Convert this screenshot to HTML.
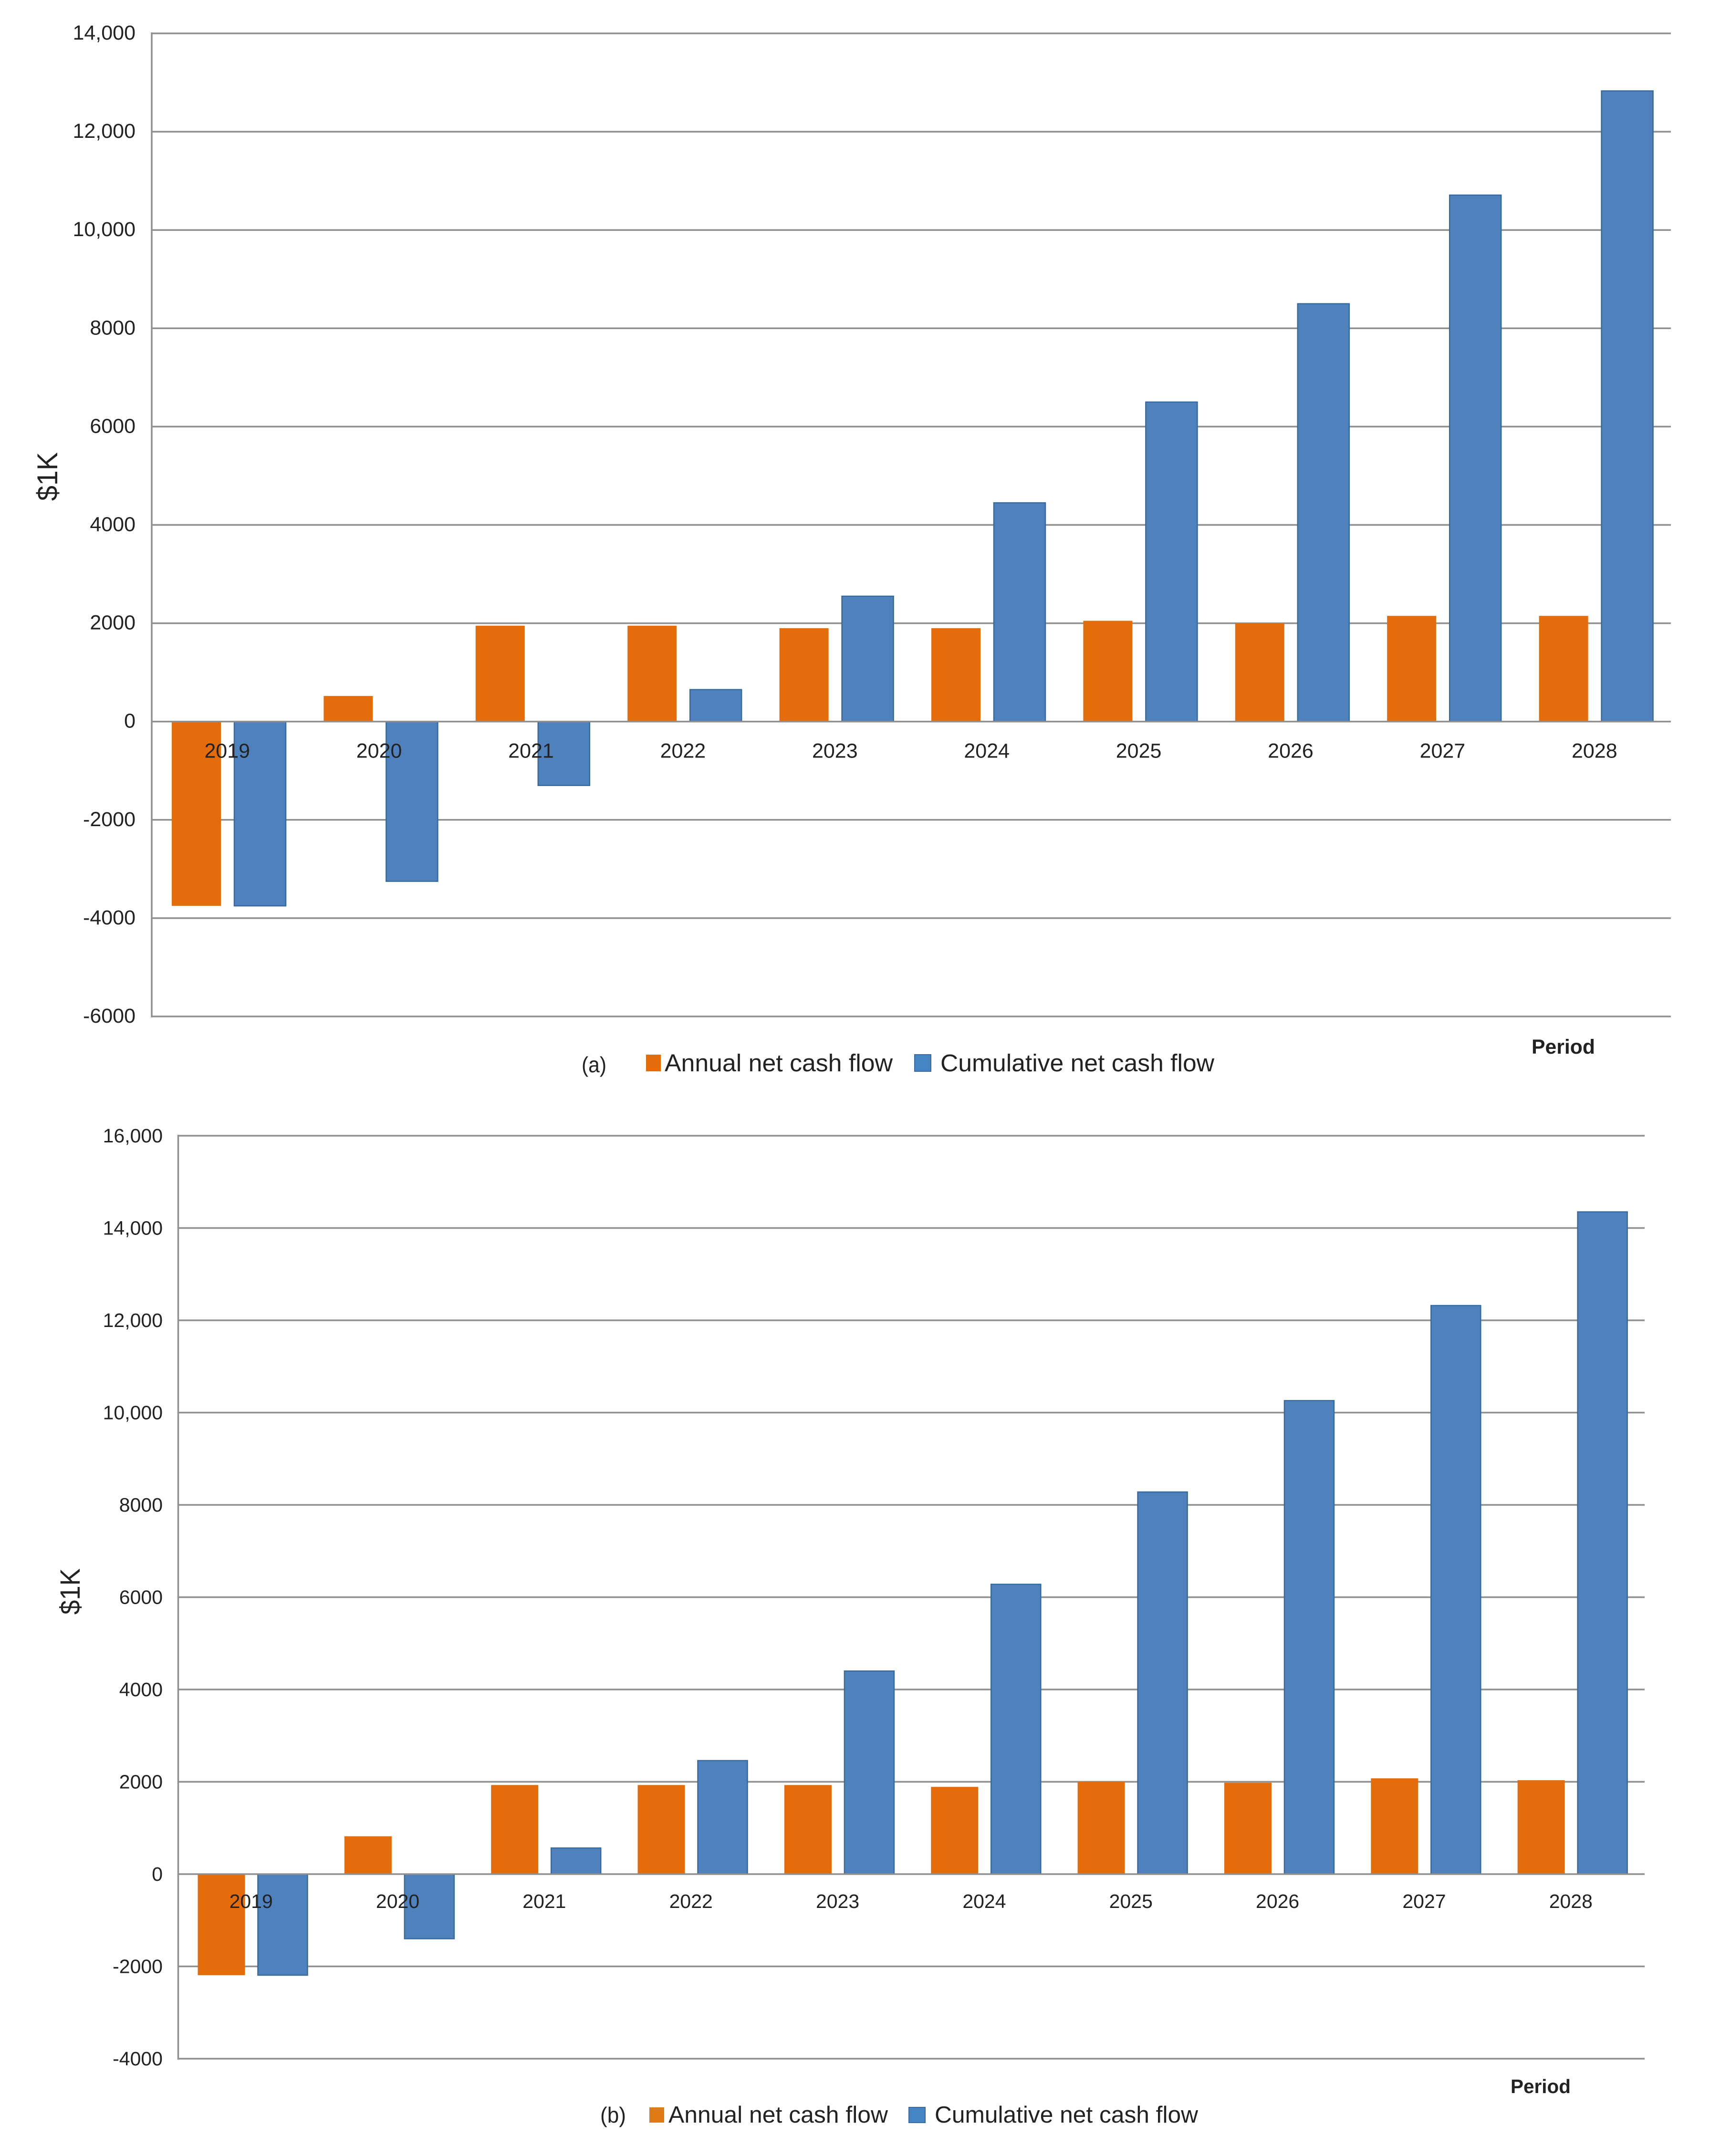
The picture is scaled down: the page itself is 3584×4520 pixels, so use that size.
<!DOCTYPE html>
<html lang="en">
<head>
<meta charset="utf-8">
<title>Annual and cumulative net cash flow</title>
<style>
html,body{margin:0;padding:0;background:#fff;width:3584px;height:4520px;overflow:hidden}
svg{display:block}
text{font-family:"Liberation Sans",sans-serif;fill:#222}
</style>
</head>
<body>
<svg id="figure" xmlns="http://www.w3.org/2000/svg" width="3584" height="4520" viewBox="0 0 3584 4520">
<rect x="0" y="0" width="3584" height="4520" fill="#ffffff"/>
<g id="chart-a"></g>
<g id="chart-b"></g>

<g>
<text x="1219" y="2248" font-size="46" textLength="52" lengthAdjust="spacingAndGlyphs">(a)</text>
<rect x="1354" y="2211" width="31" height="35" fill="#e46c0a"/>
<text x="1393" y="2246" font-size="51" textLength="478" lengthAdjust="spacingAndGlyphs">Annual net cash flow</text>
<rect x="1917" y="2211" width="34" height="35" fill="#4585c4" stroke="#3a6a9e" stroke-width="2"/>
<text x="1971" y="2246" font-size="51" textLength="574" lengthAdjust="spacingAndGlyphs">Cumulative net cash flow</text>
<text x="3210" y="2209" font-size="43" font-weight="bold" textLength="133" lengthAdjust="spacingAndGlyphs">Period</text>
</g>

<g>
<text x="1258" y="4450" font-size="46" textLength="54" lengthAdjust="spacingAndGlyphs">(b)</text>
<rect x="1361" y="4418" width="31" height="32" fill="#e07b14"/>
<text x="1401" y="4450" font-size="49" textLength="460" lengthAdjust="spacingAndGlyphs">Annual net cash flow</text>
<rect x="1905" y="4418" width="34" height="32" fill="#4585c4" stroke="#3a6a9e" stroke-width="2"/>
<text x="1959" y="4450" font-size="49" textLength="552" lengthAdjust="spacingAndGlyphs">Cumulative net cash flow</text>
<text x="3166" y="4388" font-size="41" font-weight="bold" textLength="126" lengthAdjust="spacingAndGlyphs">Period</text>
</g>

<text transform="translate(120 1050) rotate(-90)" font-size="60" textLength="102" lengthAdjust="spacingAndGlyphs">$1K</text>
<text transform="translate(167 3385) rotate(-90)" font-size="58" textLength="97" lengthAdjust="spacingAndGlyphs">$1K</text>
</svg>

<script>
var categories = ['2019','2020','2021','2022','2023','2024','2025','2026','2027','2028'];

var annualA = [-3750, 520, 1950, 1950, 1900, 1900, 2050, 2000, 2150, 2150];
var cumulativeA = [-3750, -3250, -1300, 650, 2550, 4450, 6500, 8500, 10710, 12830];
var tickValuesA = [14000, 12000, 10000, 8000, 6000, 4000, 2000, 0, -2000, -4000, -6000];
var tickLabelsA = ['14,000', '12,000', '10,000', '8000', '6000', '4000', '2000', '0', '-2000', '-4000', '-6000'];

var annualB = [-2190, 820, 1930, 1930, 1930, 1890, 2000, 1980, 2075, 2035];
var cumulativeB = [-2190, -1400, 565, 2460, 4400, 6280, 8280, 10260, 12320, 14350];
var tickValuesB = [16000, 14000, 12000, 10000, 8000, 6000, 4000, 2000, 0, -2000, -4000];
var tickLabelsB = ['16,000', '14,000', '12,000', '10,000', '8000', '6000', '4000', '2000', '0', '-2000', '-4000'];

var NS = 'http://www.w3.org/2000/svg';

function make(parent, tag, attrs, content) {
  var el = document.createElementNS(NS, tag);
  for (var k in attrs) { el.setAttribute(k, attrs[k]); }
  if (content !== undefined) { el.textContent = content; }
  parent.appendChild(el);
  return el;
}

function drawChart(cfg) {
  var root = document.getElementById(cfg.id);
  var domainMax = Math.max.apply(null, cfg.tickValues);
  var domainMin = Math.min.apply(null, cfg.tickValues);
  function yScale(v) {
    return cfg.plotTop + (domainMax - v) / (domainMax - domainMin) * (cfg.plotBottom - cfg.plotTop);
  }
  var band = (cfg.plotRight - cfg.plotLeft) / categories.length;
  function xBand(i) {
    return cfg.plotLeft + band * i;
  }

  cfg.tickValues.forEach(function (v, i) {
    var grid = make(root, 'line', { x1: cfg.plotLeft, x2: cfg.plotRight, y1: yScale(v), y2: yScale(v), stroke: '#909090', 'stroke-width': 3.5 });
    
    
    var tick = make(root, 'text', { x: cfg.tickRight, y: yScale(v) + cfg.tickDy, 'font-size': cfg.tickFont, 'text-anchor': 'end', fill: '#262626' }, cfg.tickLabels[i]);
    
    
  });

  var axis = make(root, 'line', { x1: cfg.plotLeft, x2: cfg.plotLeft, y1: cfg.plotTop - 2, y2: cfg.plotBottom + 2, stroke: '#909090', 'stroke-width': 3.5 });
  
  

  categories.forEach(function (c, i) {
    var y0 = yScale(0);
    var yA = yScale(cfg.annual[i]);
    var barA = make(root, 'rect', { x: xBand(i) + cfg.annualOffset, width: cfg.annualWidth, y: Math.min(y0, yA), height: Math.abs(yA - y0), fill: '#e46c0a' });
    
    
    var yC = yScale(cfg.cumulative[i]);
    var barC = make(root, 'rect', { x: xBand(i) + cfg.cumulativeOffset + 1, width: cfg.cumulativeWidth - 2, y: Math.min(y0, yC), height: Math.abs(yC - y0), fill: '#4f81bd', stroke: '#376a9c', 'stroke-width': 2.5 });
    
    
  });

  var zero = make(root, 'line', { x1: cfg.plotLeft, x2: cfg.plotRight, y1: yScale(0), y2: yScale(0), stroke: '#909090', 'stroke-width': 3 });
  
  

  categories.forEach(function (c, i) {
    var label = make(root, 'text', { x: xBand(i) + band / 2 - 1, y: yScale(0) + cfg.catDy, 'font-size': cfg.catFont, 'text-anchor': 'middle', fill: '#1a1a2a' }, c);
    
    
  });
}

drawChart({
  id: 'chart-a', annual: annualA, cumulative: cumulativeA, tickValues: tickValuesA, tickLabels: tickLabelsA,
  plotLeft: 318, plotRight: 3502, plotTop: 70, plotBottom: 2131,
  annualOffset: 42, annualWidth: 103, cumulativeOffset: 172, cumulativeWidth: 110,
  tickRight: 284, tickDy: 13, tickFont: 43, catDy: 76, catFont: 43
});
drawChart({
  id: 'chart-b', annual: annualB, cumulative: cumulativeB, tickValues: tickValuesB, tickLabels: tickLabelsB,
  plotLeft: 373.5, plotRight: 3447, plotTop: 2381, plotBottom: 4316,
  annualOffset: 41, annualWidth: 99, cumulativeOffset: 166, cumulativeWidth: 106,
  tickRight: 341, tickDy: 14, tickFont: 41, catDy: 71, catFont: 41
});
</script>
</body>
</html>
